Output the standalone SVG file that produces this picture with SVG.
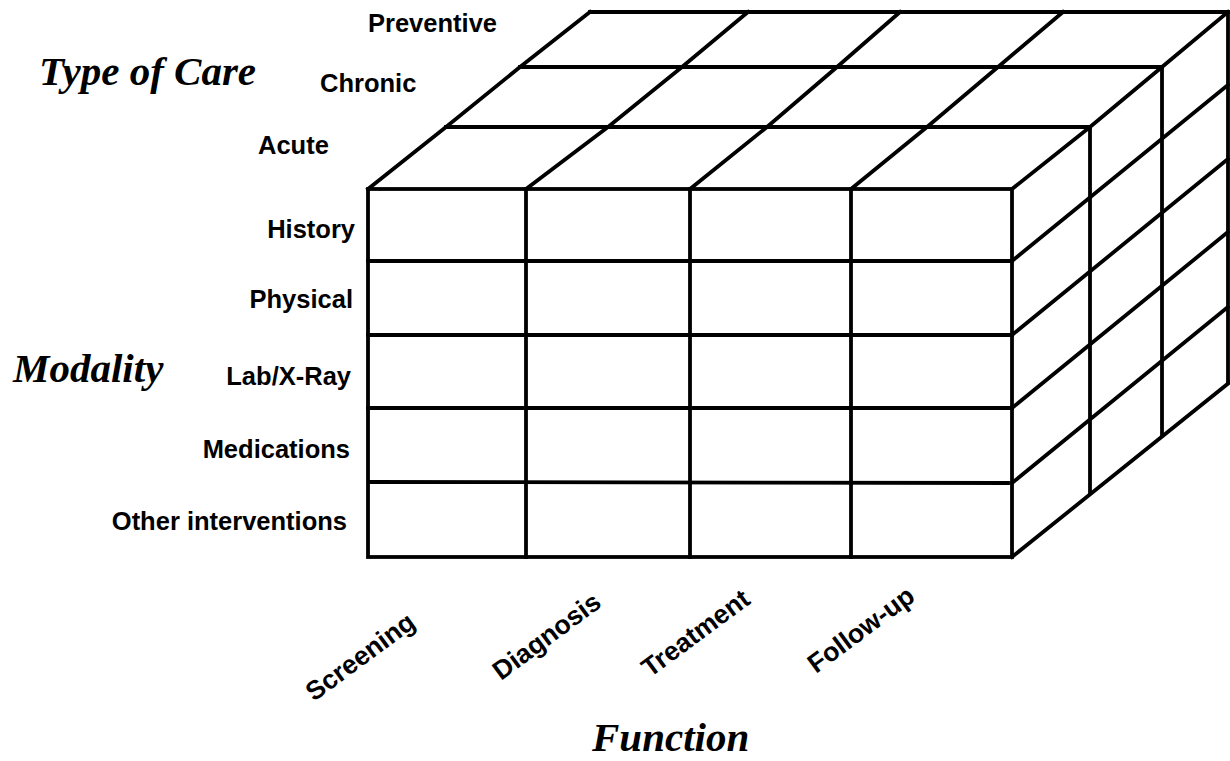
<svg xmlns="http://www.w3.org/2000/svg" width="1230" height="761" viewBox="0 0 1230 761">
<style>
.ln{stroke:#000;stroke-width:3.8;fill:none;stroke-linecap:square;stroke-linejoin:miter}
.lbl{font-family:"Liberation Sans",Arial,sans-serif;font-weight:bold;font-size:25.5px;fill:#000}
.rot{font-size:26.5px}
.ttl{font-family:"Liberation Serif","Times New Roman",serif;font-weight:bold;font-style:italic;font-size:41px;fill:#000}
</style>
<rect width="1230" height="761" fill="#fff"/>
<g id="cube">
<g id="front-face">
<rect class="ln" x="368" y="189" width="644" height="368"/>
<line class="ln" x1="368" y1="261" x2="1012" y2="261"/>
<line class="ln" x1="368" y1="335" x2="1012" y2="335"/>
<line class="ln" x1="368" y1="408" x2="1012" y2="408"/>
<line class="ln" x1="370" y1="482" x2="1008" y2="483"/>
<line class="ln" x1="526" y1="189" x2="526" y2="557"/>
<line class="ln" x1="690" y1="189" x2="690" y2="557"/>
<line class="ln" x1="851" y1="189" x2="851" y2="557"/>
</g>
<g id="top-face">
<polyline class="ln" points="368,189 446,127 520,67 590,12"/>
<polyline class="ln" points="526,189 608,127 682,67 748,12"/>
<polyline class="ln" points="690,189 767,127 837,67 900,12"/>
<polyline class="ln" points="851,189 927,127 998,67 1063,12"/>
<polyline class="ln" points="1012,189 1090,127 1162,67 1228,12"/>
<line class="ln" x1="446" y1="127" x2="1090" y2="127"/>
<line class="ln" x1="520" y1="67" x2="1162" y2="67"/>
<line class="ln" x1="590" y1="12" x2="1228" y2="12"/>
</g>
<g id="right-face">
<line class="ln" x1="1090" y1="127" x2="1090" y2="492"/>
<line class="ln" x1="1162" y1="67" x2="1162" y2="435"/>
<line class="ln" x1="1228" y1="12" x2="1228" y2="382"/>
<line class="ln" x1="1012" y1="261" x2="1228" y2="85"/>
<line class="ln" x1="1012" y1="335" x2="1228" y2="159"/>
<line class="ln" x1="1012" y1="408" x2="1228" y2="232"/>
<line class="ln" x1="1012" y1="483" x2="1228" y2="307"/>
<line class="ln" x1="1012" y1="557" x2="1230" y2="382"/>
</g>
</g>
<g id="type-of-care">
<text class="ttl" x="39" y="85">Type of Care</text>
<text class="lbl" x="368" y="32">Preventive</text>
<text class="lbl" x="320" y="92">Chronic</text>
<text class="lbl" x="258" y="154">Acute</text>
</g>
<g id="modality">
<text class="ttl" x="13" y="382">Modality</text>
<text class="lbl" x="355" y="238" text-anchor="end">History</text>
<text class="lbl" x="353" y="308" text-anchor="end">Physical</text>
<text class="lbl" x="351" y="385" text-anchor="end">Lab/X-Ray</text>
<text class="lbl" x="350" y="458" text-anchor="end">Medications</text>
<text class="lbl" x="347" y="530" text-anchor="end">Other interventions</text>
</g>
<g id="function">
<text class="ttl" x="592" y="751">Function</text>
<text class="lbl rot" transform="translate(314,702) rotate(-36.5)">Screening</text>
<text class="lbl rot" transform="translate(501,681) rotate(-36.5)">Diagnosis</text>
<text class="lbl rot" transform="translate(650,678) rotate(-36.5)">Treatment</text>
<text class="lbl rot" transform="translate(816,674) rotate(-36.5)">Follow-up</text>
</g>
</svg>
